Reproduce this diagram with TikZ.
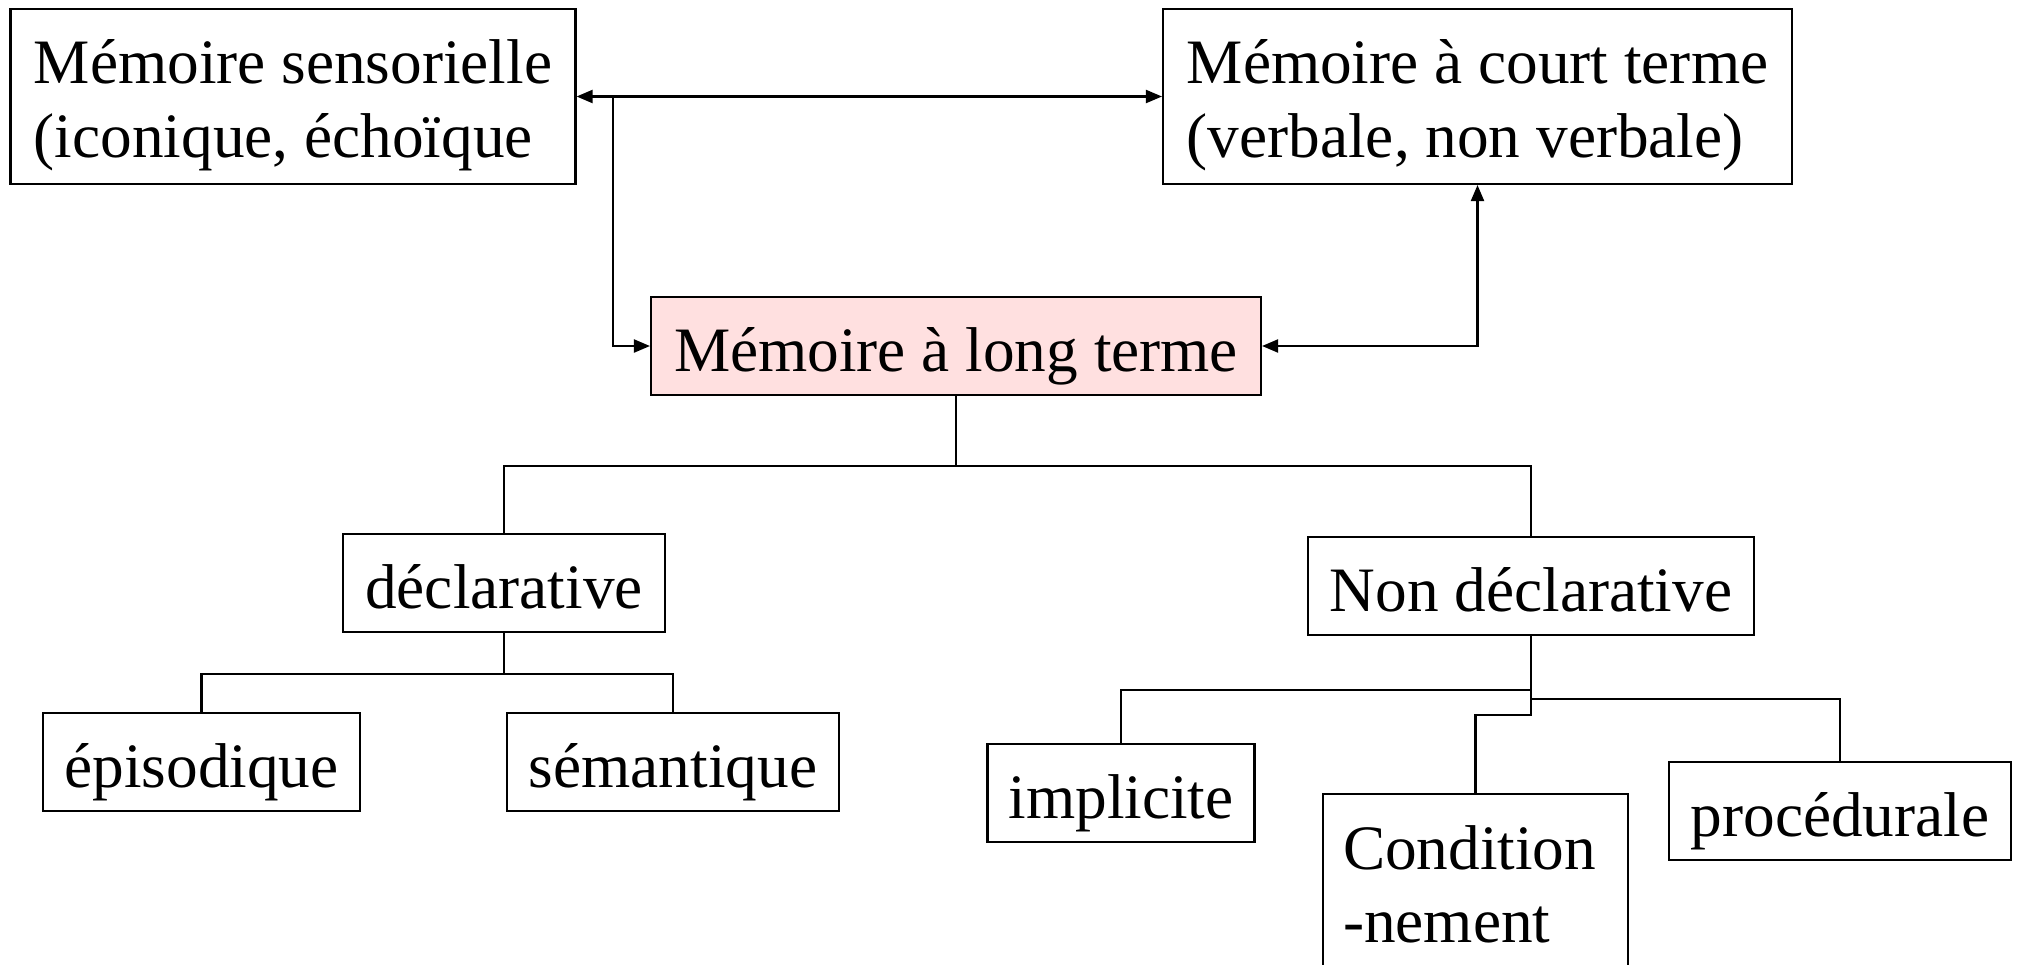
\documentclass[tikz,border=0pt]{standalone}
\usepackage{fontspec}
\setmainfont{Liberation Serif}
\usetikzlibrary{arrows.meta}
\definecolor{longfill}{RGB}{255,224,224}
\tikzset{
  box/.style = {draw, line width=0.6pt, inner sep=0pt, font=\fontsize{18}{21}\selectfont,
    text height=0.5cm, text depth=0cm, minimum height=0.98cm},
  twobox/.style = {draw, line width=0.6pt, inner sep=0pt, align=left,
    font=\fontsize{18}{21}\selectfont, text height=1.36cm, text depth=0.15cm,
    minimum height=1.75cm},
}

\begin{document}
\begin{tikzpicture}[line width=0.6pt, >={Triangle[length=1.6mm, width=1.3mm]}]
  \useasboundingbox (0,0) rectangle (20.24,-9.64);
  \clip (0,0) rectangle (20.24,-9.64);

  \node[twobox, minimum width=5.65cm] (sens) at (2.93,-0.965) {Mémoire sensorielle\\(iconique, échoïque};
  \node[twobox, minimum width=6.29cm] (court) at (14.775,-0.965) {Mémoire à court terme\\(verbale, non verbale)};
  \node[box, fill=longfill, minimum width=6.10cm] (long) at (9.56,-3.46) {Mémoire à long terme};
  \node[box, minimum width=3.22cm] (decl) at (5.04,-5.83) {déclarative};
  \node[box, minimum width=4.46cm] (ndecl) at (15.31,-5.86) {Non déclarative};
  \node[box, minimum width=3.17cm] (epi) at (2.015,-7.62) {épisodique};
  \node[box, minimum width=3.32cm] (sem) at (6.73,-7.62) {sémantique};
  \node[box, minimum width=2.67cm] (impl) at (11.21,-7.93) {implicite};
  \node[box, minimum width=3.42cm] (proc) at (18.40,-8.11) {procédurale};
  \node[twobox, anchor=north, minimum width=3.05cm, minimum height=0cm,
    text height=0.75cm, text depth=1.2cm, text width=2.65cm] (cond) at (14.755,-7.93) {Condition\\-nement};

  \coordinate (split) at (6.13,-0.965);
  \draw[<->] (sens.east) -- (court.west);
  \draw[->] (split) |- (long);
  \draw[<->] (long) -| (court);

  \draw (long.south) -- ++(0,-0.70) coordinate (bus) -| (decl.north);
  \draw (bus) -| (ndecl.north);
  \draw (decl.south) -- ++(0,-0.41) coordinate (dbus) -| (epi.north);
  \draw (dbus) -| (sem.north);
  \draw (ndecl.south) -- ++(0,-0.54) -| (impl.north);
  \draw (ndecl.south) -- ++(0,-0.63) -| (proc.north);
  \draw (ndecl.south) -- ++(0,-0.79) -| (cond.north);
\end{tikzpicture}
\end{document}
